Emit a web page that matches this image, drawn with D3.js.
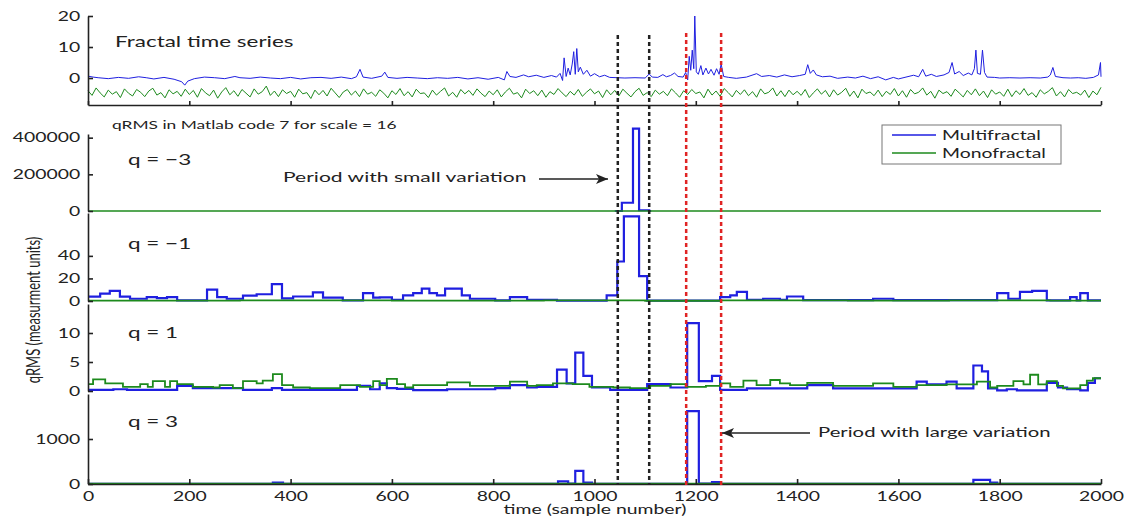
<!DOCTYPE html>
<html>
<head>
<meta charset="utf-8">
<script src="https://cdn.jsdelivr.net/npm/d3@7"></script>
<style>
  body { margin: 0; background: #fff; }
  text { font-family: Lato, "Open Sans", sans-serif; fill: #222; }
</style>
</head>
<body>
<div id="chart"></div>
<script>
// ---- data (x = sample number) ----
let xTicks = [0, 200, 400, 600, 800, 1000, 1200, 1400, 1600, 1800, 2000];

// fractal time series, monofractal sampled every 8 samples
let monoSeries = [
  -4.1,-5.6,-3.2,-4.8,-6.1,-3.9,-5.2,-4.4,-6.3,-3.5,-4.9,-5.8,-3.7,-4.6,-6.0,-4.2,-3.3,-5.5,-4.7,-6.4,-3.8,-5.1,-4.3,-5.9,-3.6,
  -5.3,-4.0,-6.2,-3.4,-4.8,-5.7,-3.9,-6.5,-4.5,-3.1,-5.4,-4.1,-5.9,-3.7,-4.9,-6.1,-3.5,-5.2,-4.4,-2.6,-5.6,-4.2,-6.0,-3.8,-5.0,
  -4.3,-6.2,-3.6,-5.1,-4.7,-6.6,-3.9,-5.4,-4.0,-5.8,-3.3,-4.8,-6.3,-4.5,-3.7,-5.5,-4.2,-6.0,-3.5,-5.2,-4.6,-5.9,-3.8,-4.9,-6.4,
  -4.1,-5.3,-3.4,-5.7,-4.4,-6.1,-3.6,-5.0,-4.8,-6.3,-3.9,-5.5,-4.3,-3.2,-5.8,-4.6,-6.2,-3.7,-5.1,-4.0,-5.6,-3.5,-4.9,-6.0,-4.2,
  -5.4,-3.8,-6.1,-4.5,-3.3,-5.2,-4.7,-6.4,-3.6,-5.0,-4.1,-5.7,-3.9,-6.2,-4.4,-5.3,-3.4,-4.8,-6.0,-4.3,-5.5,-3.7,-5.9,-4.6,-3.5,
  -5.1,-4.2,-6.3,-3.8,-5.4,-4.0,-5.8,-3.6,-4.9,-6.1,-4.4,-3.3,-5.6,-4.7,-6.0,-3.9,-5.2,-4.3,-5.7,-3.5,-4.8,-6.2,-4.1,-5.3,-3.7,
  -5.0,-4.5,-6.4,-3.6,-5.5,-4.2,-5.9,-3.4,-4.7,-6.1,-4.0,-5.3,-3.8,-5.7,-4.4,-6.2,-3.5,-5.1,-4.6,-3.2,-5.8,-4.1,-6.0,-3.9,-5.4,
  -4.3,-5.6,-3.7,-6.3,-4.8,-3.5,-5.2,-4.0,-6.1,-3.8,-5.5,-4.6,-3.3,-5.9,-4.2,-6.4,-3.6,-5.0,-4.5,-5.7,-3.9,-6.0,-4.3,-5.3,-3.4,
  -5.8,-4.1,-6.2,-3.7,-5.1,-4.6,-3.2,-5.5,-4.3,-6.5,-3.9,-5.0,-4.4,-5.9,-3.6,-4.8,-6.1,-4.0,-5.4,-3.5,-5.7,-4.2,-6.3,-3.8,-5.2,
  -4.5,-5.9,-3.6,-6.0,-4.1,-5.3,-3.4,-5.6,-4.7,-6.2,-3.8,-5.1,-4.3,-3.1,-5.8,-4.4,-6.1,-3.7,-5.0,-4.6,-5.5,-3.9,-6.3,-4.2,-5.4,
  -3.0
];
let monoStep = 8;

// multifractal series as [sample, value]
let multiSeries = [
  [0,0.6],[10,0.3],[20,0.1],[40,-0.2],[60,0.2],[80,-0.1],[100,0.4],[115,0.1],[130,-0.3],[150,0.2],[170,-0.4],[185,-1.2],[191,-2.3],[197,-1.0],
  [210,-0.2],[230,0.3],[250,0.1],[270,-0.2],[290,0.5],[300,0.1],[320,-0.1],[340,0.3],[360,0.0],[380,-0.2],[400,0.2],[420,-0.3],[440,0.1],
  [460,0.2],[480,-0.1],[500,0.3],[520,-0.2],[530,0.4],[537,2.8],[543,0.3],[560,-0.1],[580,0.6],[586,1.9],[592,0.2],[610,-0.1],[630,0.2],
  [650,0.0],[670,-0.2],[690,0.1],[710,-0.1],[730,0.2],[750,-0.3],[770,0.1],[790,-0.4],[810,0.2],[822,-0.6],[827,2.1],[833,0.5],[845,0.2],
  [860,1.0],[870,0.4],[885,0.9],[900,0.2],[915,0.8],[925,0.3],[932,1.5],[937,-0.8],[940,6.5],[944,0.5],[948,3.2],[952,1.0],[956,4.5],
  [959,8.5],[962,1.2],[965,9.5],[968,2.0],[972,3.5],[978,1.2],[985,2.5],[992,0.6],[1000,1.4],[1010,0.4],[1020,0.9],[1030,0.2],[1045,0.1],
  [1060,0.0],[1080,0.1],[1100,0.0],[1108,1.3],[1114,0.3],[1125,0.2],[1135,1.1],[1142,0.4],[1150,0.8],[1158,1.6],[1165,0.5],[1175,0.3],
  [1180,1.8],[1184,-0.6],[1187,7.0],[1190,2.5],[1193,9.0],[1196,3.0],[1198,20.0],[1201,2.0],[1205,1.2],[1210,4.0],[1214,1.0],[1220,3.2],
  [1225,1.3],[1230,2.8],[1236,0.9],[1241,3.0],[1246,1.2],[1250,4.5],[1255,0.5],[1265,0.2],[1280,-0.1],[1300,0.3],[1320,1.4],[1330,0.5],
  [1345,0.8],[1360,0.3],[1375,1.0],[1390,0.4],[1405,0.8],[1416,1.2],[1421,4.3],[1426,1.5],[1432,2.6],[1438,1.0],[1450,0.4],[1465,0.6],
  [1480,-0.1],[1500,0.3],[1515,0.0],[1530,0.6],[1545,-0.2],[1560,0.4],[1575,-0.6],[1590,0.2],[1600,-0.3],[1615,0.3],[1630,0.9],[1640,0.4],
  [1648,2.8],[1654,0.6],[1665,1.2],[1675,0.5],[1690,1.0],[1700,1.8],[1706,5.0],[1711,1.3],[1720,2.1],[1728,0.8],[1738,1.6],[1745,1.0],
  [1750,3.0],[1753,9.0],[1756,1.5],[1762,1.2],[1766,9.0],[1770,1.8],[1775,0.3],[1790,0.2],[1800,0.0],[1820,0.1],[1840,0.0],[1860,0.1],
  [1880,0.0],[1895,0.3],[1900,1.0],[1905,3.4],[1910,0.5],[1925,0.1],[1940,0.0],[1955,0.1],[1970,-0.1],[1985,0.2],[1995,1.0],[1999,5.0],[2000,0.4]
];

// qRMS step series, [start sample, value] held until next break
// (q = -3 multifractal only shown where it leaves the zero line)
let qm3Multi = [[1040,0],[1054,45000],[1076,449000],[1088,4000],[1108,0],[1112,0]];
let qm3Mono  = [[0,0],[2000,0]];

let qm1Multi = [
  [0,3.8],[24,6.5],[43,9],[63,3.8],[83,2],[116,3.5],[136,2.5],[156,3.5],[176,0.6],[235,10],[255,3.5],[274,2],[306,4.7],[333,6],[363,15],
  [383,2.4],[405,4],[444,7.7],[464,3],[503,0.6],[543,7],[563,3],[576,3.3],[600,1],[622,5],[642,7],[659,11],[674,7],[689,5],[705,11],
  [738,5],[754,2],[804,0.5],[833,3.5],[867,1],[926,0.3],[1024,5],[1045,35],[1058,75],[1088,22],[1104,0.3],[1248,3.5],[1268,5],[1281,8],
  [1301,1],[1333,2],[1366,1],[1380,4],[1412,0.8],[1550,2],[1590,0.8],[1795,7],[1817,2],[1840,8],[1864,9],[1893,0.6],[1939,3.5],[1952,0.6],
  [1959,7],[1974,0.6],[2000,0.6]
];
let qm1Mono = [[0,0.3],[300,0.5],[600,0.3],[900,0.6],[1100,0.2],[1250,0.5],[1500,0.3],[1700,0.6],[1900,0.3],[2000,0.3]];

let q1Multi = [
  [0,0.2],[50,0.3],[77,0.2],[176,0.9],[207,0.5],[306,0.2],[363,0.5],[383,0.2],[531,0.9],[557,0.3],[576,1.3],[590,0.5],[610,0.35],[642,0.15],
  [709,0.3],[804,0.5],[833,1.0],[867,0.6],[886,0.7],[926,3.7],[945,1.3],[962,6.6],[978,2.6],[995,0.6],[1031,0.2],[1104,1.2],[1150,0.6],
  [1183,11.7],[1206,1.7],[1232,2.6],[1248,0.2],[1301,0.45],[1420,1.0],[1471,0.45],[1636,1.6],[1656,1.15],[1695,1.6],[1715,0.45],[1748,4.4],
  [1765,3.4],[1777,0.45],[1795,0.1],[1814,0.3],[1834,0.1],[1893,1.4],[1915,0.6],[1933,0.3],[1959,0.1],[1974,1.4],[1988,2.2],[2000,2.2]
];
let q1Mono = [
  [0,1.2],[10,2.0],[34,1.3],[69,0.7],[103,1.2],[118,0.7],[128,1.7],[152,0.7],[162,1.7],[176,1.2],[207,0.7],[247,0.6],[260,1.0],[286,0.5],
  [306,1.7],[333,1.3],[345,1.8],[365,2.9],[383,1.0],[405,0.6],[438,0.5],[498,1.0],[537,0.7],[563,1.7],[576,1.0],[590,2.1],[610,1.2],
  [626,0.6],[642,1.0],[709,1.5],[754,0.9],[833,1.6],[867,0.9],[886,1.0],[918,1.3],[957,1.2],[990,0.7],[1037,0.6],[1070,0.5],[1110,0.9],
  [1150,1.2],[1180,0.7],[1220,0.9],[1248,1.3],[1268,0.7],[1294,1.8],[1320,1.0],[1347,1.9],[1366,1.3],[1386,1.0],[1420,1.4],[1471,0.9],
  [1550,1.3],[1590,0.7],[1636,1.0],[1695,1.15],[1755,1.6],[1781,0.6],[1795,0.9],[1827,1.7],[1847,1.15],[1860,2.8],[1876,1.15],[1893,1.7],
  [1913,0.9],[1925,0.45],[1959,1.0],[1972,1.8],[1984,2.2],[2000,2.2]
];

let q3Multi = [[0,5],[365,30],[385,5],[928,60],[948,10],[962,290],[978,30],[995,5],[1183,1620],[1206,10],[1232,40],[1248,5],[1748,90],[1781,30],[1795,5],[2000,5]];
let q3Mono  = [[0,8],[2000,8]];

let panelLabels = ["q = \u22123", "q = \u22121", "q = 1", "q = 3"];
let panelTicks  = [[0, 200000, 400000], [0, 20, 40], [0, 5, 10], [0, 1000]];
let topTicks    = [0, 10, 20];

let smallPeriod = [1046, 1108];   // black dashed lines
let largePeriod = [1181, 1250];   // red dashed lines

let legendNames = ["Multifractal", "Monofractal"];

// ---- drawing ----
const width = 1127, height = 517;
const blue = "#1f1fe0", green = "#1d8a1d";
const SX = 1.55;   // the figure is stretched sideways, so is its text

let svg = d3.select("#chart").append("svg")
  .attr("width", width).attr("height", height);

let x = d3.scaleLinear().domain([0, 2000]).range([88, 1101]);

// stretched text helper
function label(x0, y0, str, size, anchor) {
  return svg.append("text")
    .attr("transform", "translate(" + x0 + "," + y0 + ") scale(" + SX + ",1)")
    .attr("text-anchor", anchor || "start")
    .style("font-size", size + "px")
    .text(str);
}

function leftAxis(y, ticks) {
  let g = svg.append("g")
    .attr("transform", "translate(88,0)")
    .call(d3.axisLeft(y).tickValues(ticks).tickSize(-5).tickSizeOuter(0).tickPadding(5).tickFormat(d3.format("d")));
  g.select(".domain").attr("stroke", "#222").attr("stroke-width", 1.6);
  g.selectAll(".tick line").attr("stroke", "#222").attr("stroke-width", 1.6);
  g.selectAll("text").attr("font-family", null).style("font-size", "12.5px").attr("fill", "#222")
    .attr("transform", "scale(" + SX + ",1)");
  return g;
}

// top panel: fractal time series
let yTop = d3.scaleLinear().domain([-8.7, 20]).range([105, 16]);

let line = d3.line().x(d => x(d[0])).y(d => yTop(d[1]));
svg.append("path")
  .datum(monoSeries.map((v, i) => [i * monoStep, v]))
  .attr("d", line).attr("fill", "none").attr("stroke", green).attr("stroke-width", 1);
svg.append("path")
  .datum(multiSeries)
  .attr("d", line).attr("fill", "none").attr("stroke", blue).attr("stroke-width", 1);

leftAxis(yTop, topTicks);
let topX = svg.append("g")
  .attr("transform", "translate(0,105)")
  .call(d3.axisBottom(x).tickValues(xTicks).tickSize(-4).tickSizeOuter(0).tickFormat(""));
topX.select(".domain").attr("stroke", "#222").attr("stroke-width", 1.6);
topX.selectAll(".tick line").attr("stroke", "#222").attr("stroke-width", 1.6);

label(115, 47, "Fractal time series", 14.5);

// qRMS panels (monofractal drawn last, as in the original plot)
let panels = [
  { multi: qm3Multi, mono: qm3Mono, domain: [0, 420000], range: [211, 134], monoWidth: 1.3 },
  { multi: qm1Multi, mono: qm1Mono, domain: [0, 78],     range: [301, 213], monoWidth: 1.8 },
  { multi: q1Multi,  mono: q1Mono,  domain: [0, 15],     range: [391, 304], monoWidth: 1.8 },
  { multi: q3Multi,  mono: q3Mono,  domain: [0, 2000],   range: [484, 394], monoWidth: 1.8 }
];
let labelY = [165, 249, 338, 427];

panels.forEach(function (p, i) {
  let y = d3.scaleLinear().domain(p.domain).range(p.range);
  let step = d3.line().curve(d3.curveStepAfter).x(d => x(d[0])).y(d => y(d[1]));
  svg.append("path").datum(p.multi).attr("d", step)
    .attr("fill", "none").attr("stroke", blue).attr("stroke-width", 2.2);
  svg.append("path").datum(p.mono).attr("d", step)
    .attr("fill", "none").attr("stroke", green).attr("stroke-width", p.monoWidth);
  leftAxis(y, panelTicks[i]);
  label(128, labelY[i], panelLabels[i], 14.5);
});

// bottom time axis
let botX = svg.append("g")
  .attr("transform", "translate(0,484)")
  .call(d3.axisBottom(x).tickValues(xTicks).tickSize(-5).tickSizeOuter(0).tickPadding(8).tickFormat(d3.format("d")));
botX.select(".domain").attr("stroke", "#222").attr("stroke-width", 1.6);
botX.selectAll(".tick line").attr("stroke", "#222").attr("stroke-width", 1.6);
botX.selectAll("text").attr("font-family", null).style("font-size", "12.5px").attr("fill", "#222")
  .attr("transform", "scale(" + SX + ",1)");

// dashed period markers
svg.selectAll(".blackMark").data(smallPeriod).enter().append("line")
  .attr("x1", d => x(d)).attr("x2", d => x(d)).attr("y1", 35).attr("y2", 485)
  .attr("stroke", "#222").attr("stroke-width", 2.5).attr("stroke-dasharray", "4,3");
svg.selectAll(".redMark").data(largePeriod).enter().append("line")
  .attr("x1", d => x(d)).attr("x2", d => x(d)).attr("y1", 33).attr("y2", 485)
  .attr("stroke", "#e02424").attr("stroke-width", 2.5).attr("stroke-dasharray", "4,3");

// titles and annotations
label(112, 129, "qRMS in Matlab code 7 for scale = 16", 11.2);
label(283, 182, "Period with small variation", 13.6);
label(818, 437, "Period with large variation", 13.1);

svg.append("defs").append("marker")
  .attr("id", "head").attr("viewBox", "0 0 12 10").attr("refX", 12).attr("refY", 5)
  .attr("markerWidth", 12).attr("markerHeight", 10).attr("markerUnits", "userSpaceOnUse")
  .attr("orient", "auto")
  .append("path").attr("d", "M0,0 L12,5 L0,10 L3,5 Z").attr("fill", "#222");

svg.append("line").attr("x1", 539).attr("x2", 608).attr("y1", 179).attr("y2", 179)
  .attr("stroke", "#222").attr("stroke-width", 1.5).attr("marker-end", "url(#head)");
svg.append("line").attr("x1", 810).attr("x2", 722).attr("y1", 433).attr("y2", 433)
  .attr("stroke", "#222").attr("stroke-width", 1.5).attr("marker-end", "url(#head)");

// axis titles
svg.append("text")
  .attr("transform", "translate(40,310) scale(" + SX + ",1) rotate(-90)")
  .attr("text-anchor", "middle").style("font-size", "13px")
  .text("qRMS (measurment units)");
label(595, 514, "time (sample number)", 12.5, "middle");

// legend
let legend = svg.append("g");
legend.append("rect").attr("x", 882).attr("y", 125).attr("width", 179).attr("height", 39)
  .attr("fill", "#fff").attr("stroke", "#777").attr("stroke-width", 1);
[blue, green].forEach(function (c, i) {
  legend.append("line").attr("x1", 892).attr("x2", 936)
    .attr("y1", 135 + i * 18).attr("y2", 135 + i * 18)
    .attr("stroke", c).attr("stroke-width", 1.5);
  label(942, 140 + i * 18, legendNames[i], 12.5);
});
</script>
</body>
</html>
